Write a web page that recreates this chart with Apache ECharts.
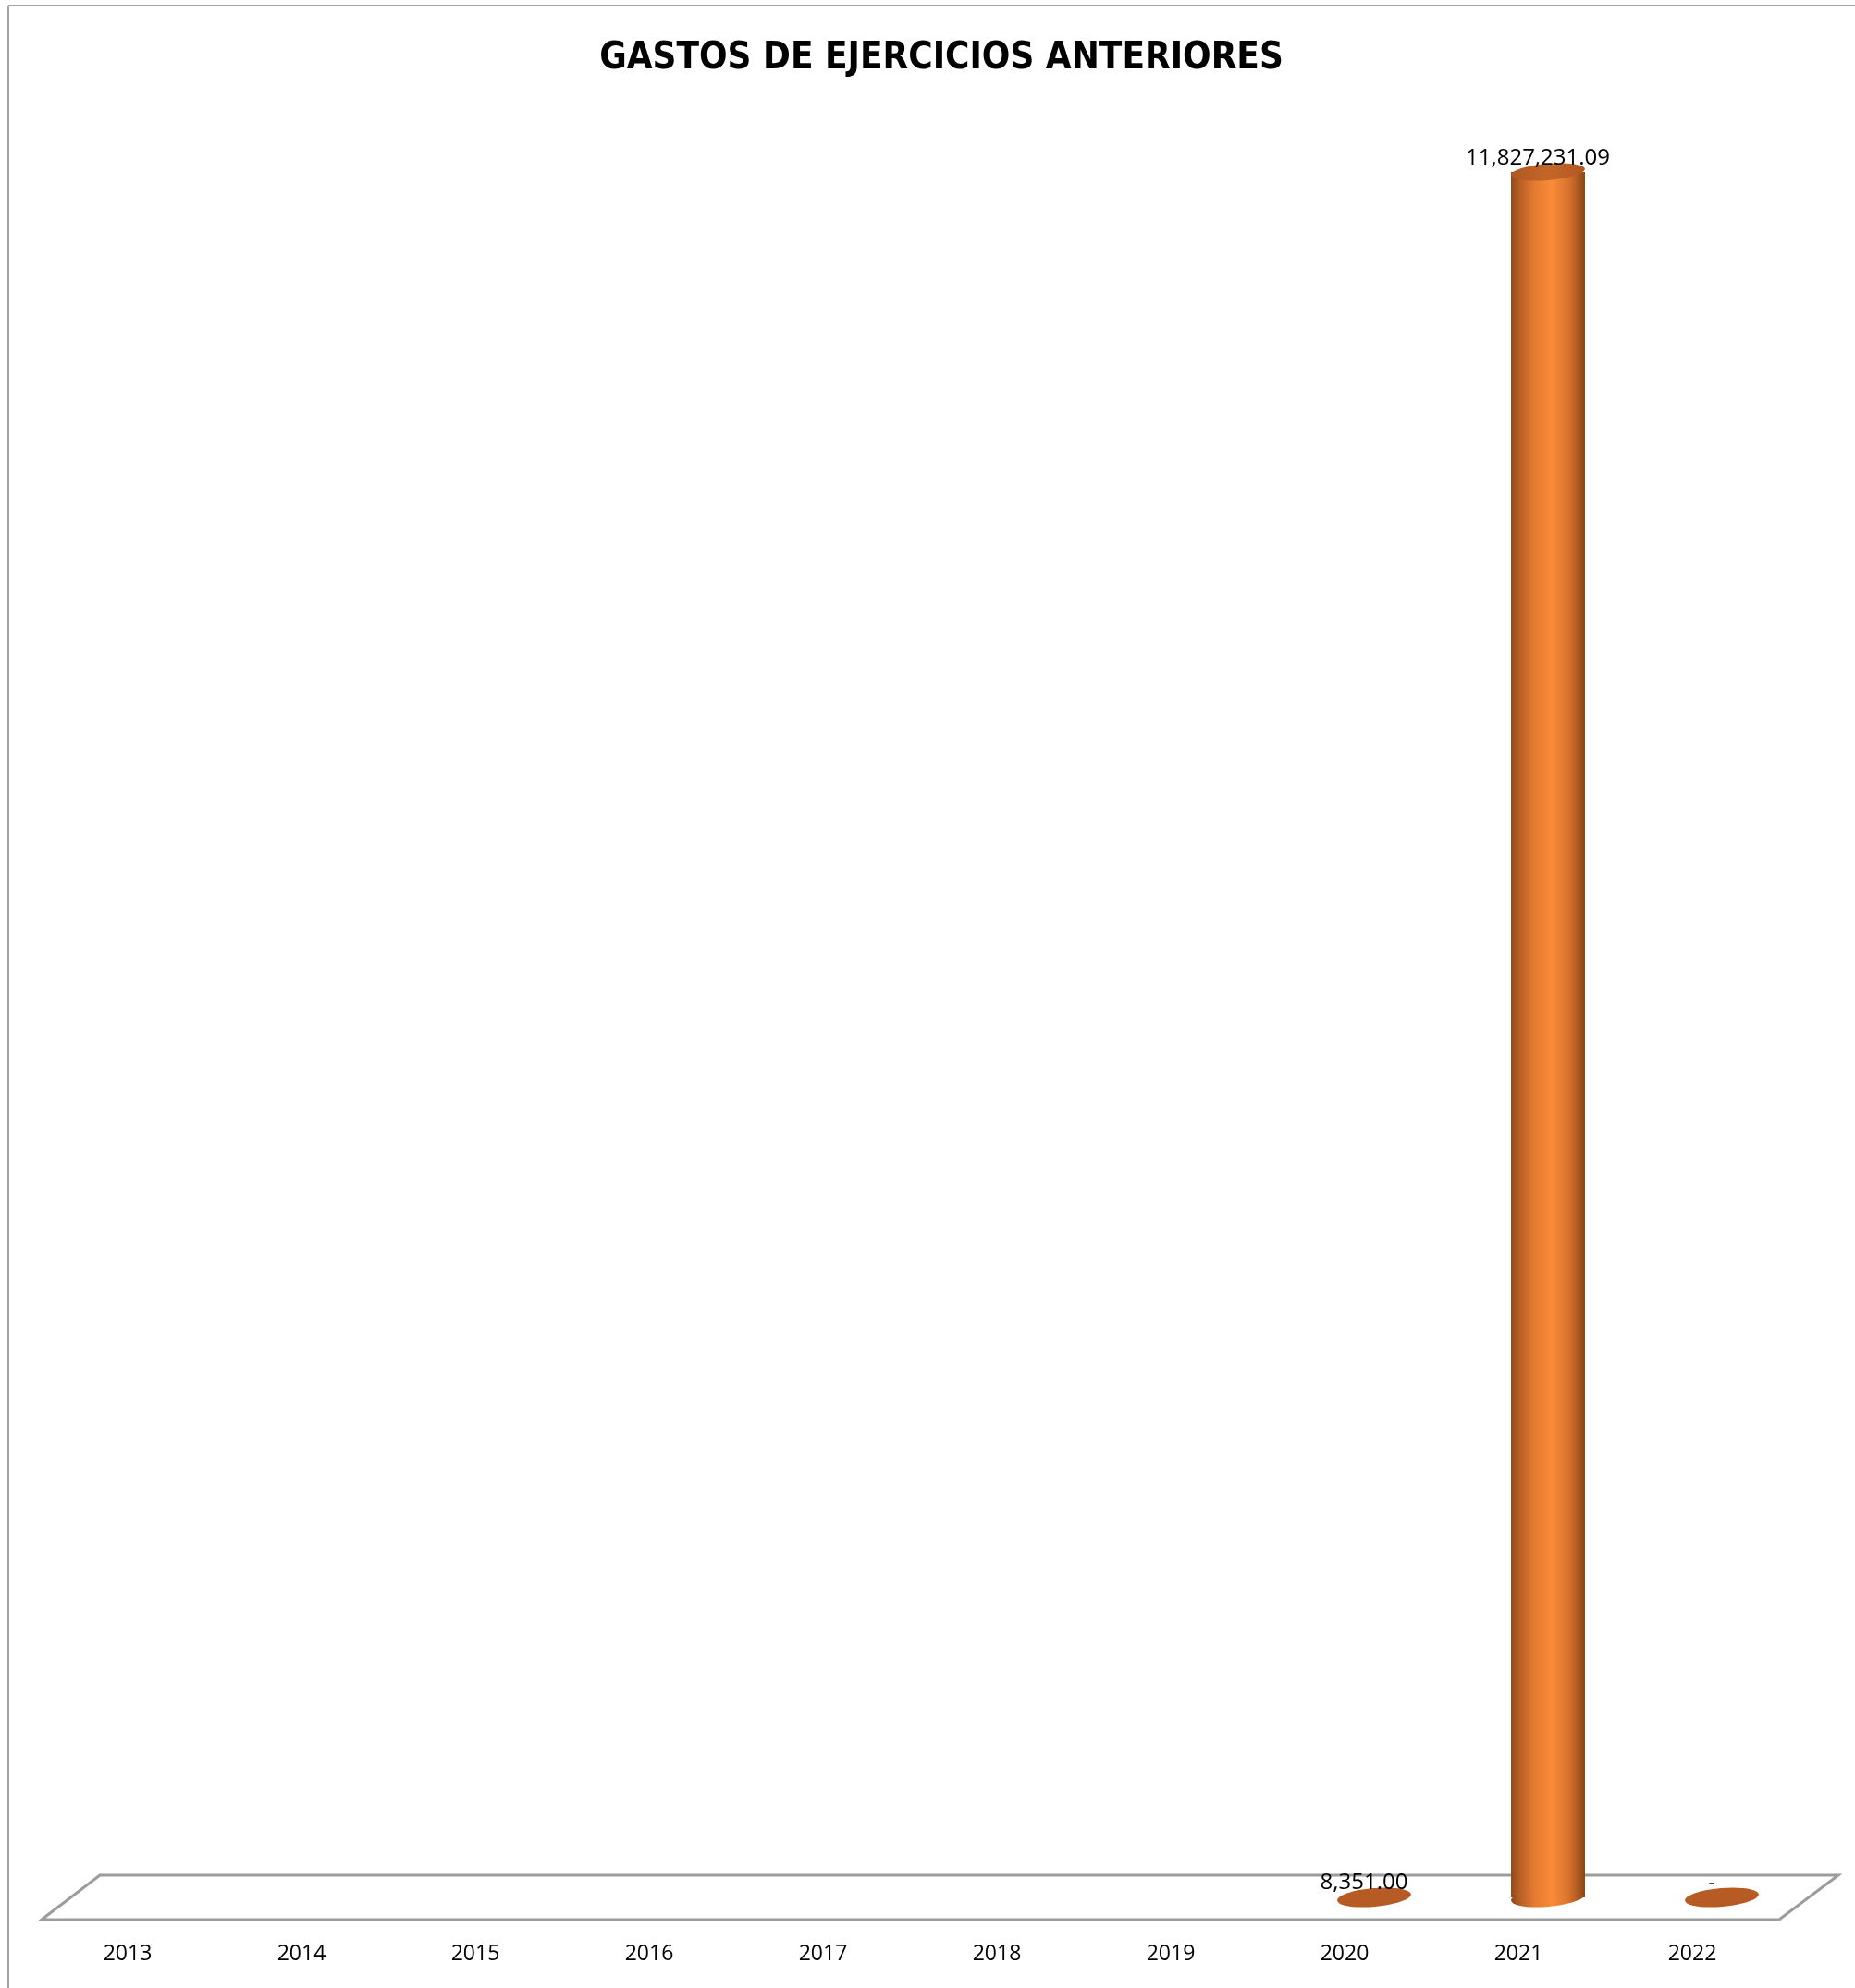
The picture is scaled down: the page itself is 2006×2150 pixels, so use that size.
<!DOCTYPE html>
<html>
<head>
<meta charset="utf-8">
<style>
  html, body { margin: 0; padding: 0; background: #ffffff; }
  #chart { width: 2006px; height: 2150px; }
</style>
<script src="https://cdn.jsdelivr.net/npm/echarts@6/dist/echarts.min.js"></script>
</head>
<body>
<div id="chart"></div>
<script>
// Years on the category axis
const years = ['2013', '2014', '2015', '2016', '2017', '2018', '2019', '2020', '2021', '2022'];
// Amounts per year (null = no entry for that year)
const amounts = [null, null, null, null, null, null, null, 8351.00, 11827231.09, 0];

const chartTitle = 'GASTOS DE EJERCICIOS ANTERIORES';

// Accounting-style number: thousands separators, two decimals, zero shown as "-"
function formatAmount(v) {
  if (v === 0) return '-';
  const parts = v.toFixed(2).split('.');
  parts[0] = parts[0].replace(/\B(?=(\d{3})+(?!\d))/g, ',');
  return parts.join('.');
}

const seriesData = [];
years.forEach(function (y, i) {
  if (amounts[i] !== null) seriesData.push([i, amounts[i]]);
});

// 3D depth offset of the bar row relative to the front edge of the floor
const DEPTH_X = 32;
const DEPTH_Y = -24;
const RADIUS_X = 40;
const TILT = 0.085;

function bodyFill() {
  return new echarts.graphic.LinearGradient(0, 0, 1, 0, [
    { offset: 0.0, color: '#8e4a1c' },
    { offset: 0.12, color: '#b85f26' },
    { offset: 0.32, color: '#e57b31' },
    { offset: 0.55, color: '#fa8c38' },
    { offset: 0.78, color: '#d8722d' },
    { offset: 0.92, color: '#a85620' },
    { offset: 1.0, color: '#8a4719' }
  ]);
}
const capColor = '#b65b23';

function renderCylinder(params, api) {
  const idx = api.value(0);
  const val = api.value(1);
  const base = api.coord([idx, 0]);
  const top = api.coord([idx, val]);
  const cx = base[0] + DEPTH_X;
  const by = base[1] + DEPTH_Y;
  const ty = top[1] + DEPTH_Y;
  const children = [];
  if (by - ty > 3) {
    children.push({
      type: 'ellipse',
      shape: { cx: cx, cy: by, rx: RADIUS_X, ry: 10 },
      rotation: TILT, originX: cx, originY: by,
      style: { fill: bodyFill() }
    });
    children.push({
      type: 'rect',
      shape: { x: cx - RADIUS_X, y: ty, width: RADIUS_X * 2, height: by - ty },
      style: { fill: bodyFill() }
    });
    children.push({
      type: 'ellipse',
      shape: { cx: cx, cy: ty, rx: RADIUS_X, ry: 9 },
      rotation: TILT, originX: cx, originY: ty,
      style: {
        fill: new echarts.graphic.LinearGradient(0, 0, 1, 0, [
          { offset: 0, color: '#b05822' },
          { offset: 0.5, color: '#c46629' },
          { offset: 1, color: '#b05822' }
        ])
      }
    });
  } else {
    children.push({
      type: 'ellipse',
      shape: { cx: cx, cy: by, rx: RADIUS_X, ry: 10 },
      rotation: TILT, originX: cx, originY: by,
      style: { fill: capColor }
    });
  }
  children.push({
    type: 'text',
    x: base[0] + 21,
    y: ty - 15,
    style: {
      text: formatAmount(val),
      fill: '#000000',
      font: '24px "Open Sans", "Noto Sans", sans-serif',
      align: 'center',
      verticalAlign: 'middle'
    },
    z2: 10
  });
  return { type: 'group', children: children };
}

const chart = echarts.init(document.getElementById('chart'), null, { renderer: 'canvas' });

chart.setOption({
  animation: false,
  backgroundColor: '#ffffff',
  grid: { left: 44, right: 82, top: 210, bottom: 74 },
  xAxis: {
    type: 'category',
    data: years,
    boundaryGap: true,
    axisLine: { show: false },
    axisTick: { show: false },
    splitLine: { show: false },
    axisLabel: {
      color: '#000000',
      fontSize: 23,
      fontFamily: '"Open Sans", "Noto Sans", sans-serif',
      margin: 26
    }
  },
  yAxis: {
    type: 'value',
    min: 0,
    max: 'dataMax',
    show: false
  },
  graphic: [
    // chart frame
    { type: 'line', shape: { x1: 9, y1: 6, x2: 2006, y2: 6 }, style: { stroke: '#a3a3a3', lineWidth: 2 }, z: 0 },
    { type: 'line', shape: { x1: 9, y1: 6, x2: 9, y2: 2150 }, style: { stroke: '#a3a3a3', lineWidth: 2 }, z: 0 },
    // floor of the 3D plot
    {
      type: 'polygon',
      shape: { points: [[45, 2076], [108, 2028], [1988, 2028], [1924, 2076]] },
      style: { fill: '#ffffff', stroke: '#9c9c9c', lineWidth: 3 },
      z: 0
    },
    {
      type: 'text',
      x: 1018,
      y: 64,
      style: {
        text: chartTitle,
        fill: '#000000',
        font: 'bold 40px "Liberation Sans Narrow", "DejaVu Sans Condensed", "Open Sans", sans-serif',
        align: 'center',
        verticalAlign: 'middle'
      },
      z: 5
    }
  ],
  series: [{
    type: 'custom',
    coordinateSystem: 'cartesian2d',
    renderItem: renderCylinder,
    data: seriesData,
    z: 3
  }]
});
</script>
</body>
</html>
